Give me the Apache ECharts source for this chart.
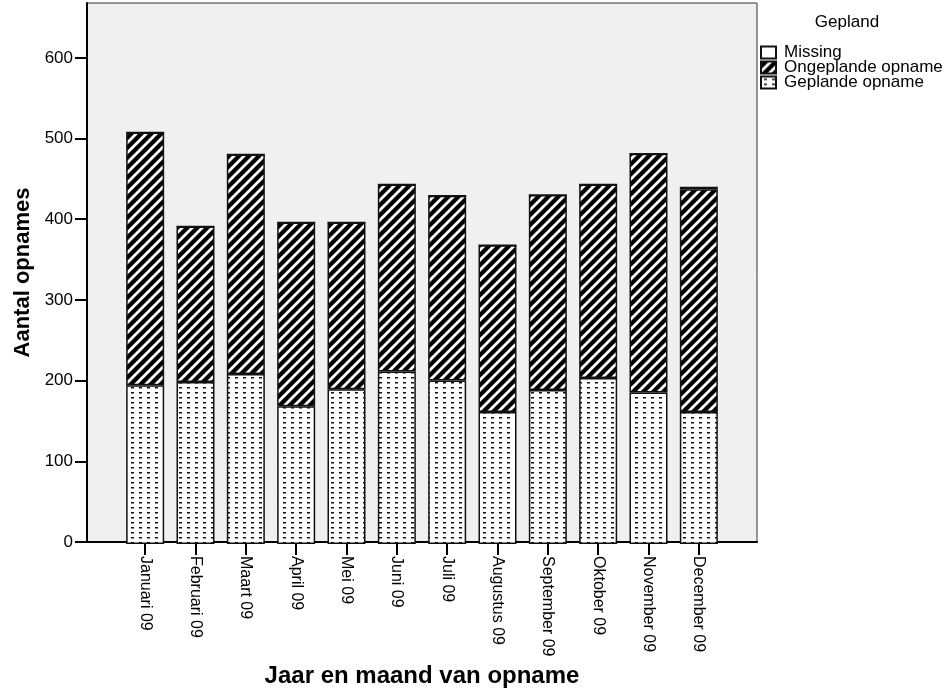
<!DOCTYPE html>
<html>
<head>
<meta charset="utf-8">
<script src="https://cdn.jsdelivr.net/npm/echarts@6/dist/echarts.min.js"></script>
<style>
html,body{margin:0;padding:0;background:#fff;}
#chart{width:946px;height:693px;}
</style>
</head>
<body>
<div id="chart"></div>
<script>
var months = ['Januari 09','Februari 09','Maart 09','April 09','Mei 09','Juni 09','Juli 09','Augustus 09','September 09','Oktober 09','November 09','December 09'];
var geplande = [196, 200, 210, 170, 191, 213, 202, 163, 190, 205, 187, 163];
var ongeplande = [312, 192, 271, 227, 206, 231, 228, 206, 241, 239, 295, 275];
var missing = [0, 0, 0, 0, 0, 0, 0, 0, 0, 0, 0, 3];
var yTicks = [0, 100, 200, 300, 400, 500, 600];
var seriesNames = ['Missing', 'Ongeplande opname', 'Geplande opname'];

function makeStripes() {
  var s = 10, c = document.createElement('canvas');
  c.width = s; c.height = s;
  var g = c.getContext('2d');
  g.fillStyle = '#000'; g.fillRect(0, 0, s, s);
  g.strokeStyle = '#fff'; g.lineWidth = 2.8;
  g.beginPath();
  g.moveTo(-1, s + 1); g.lineTo(s + 1, -1);
  g.moveTo(-1, 1); g.lineTo(1, -1);
  g.moveTo(s - 1, s + 1); g.lineTo(s + 1, s - 1);
  g.stroke();
  return c;
}
function makeDots() {
  var c = document.createElement('canvas');
  c.width = 8; c.height = 5;
  var g = c.getContext('2d');
  g.fillStyle = '#fff'; g.fillRect(0, 0, 8, 5);
  g.fillStyle = '#111'; g.fillRect(3, 2, 3, 1.5);
  return c;
}
var stripePattern = { image: makeStripes(), repeat: 'repeat' };
var dotPattern = { image: makeDots(), repeat: 'repeat' };

var font = "'Liberation Sans', Arial, sans-serif";
var yMax = 668;

var chart = echarts.init(document.getElementById('chart'), null, { renderer: 'canvas' });
chart.setOption({
  animation: false,
  backgroundColor: '#fff',
  textStyle: { fontFamily: font },
  title: {
    text: 'Gepland', left: 847, top: 14, padding: 0, textAlign: 'center',
    textStyle: { fontFamily: font, fontSize: 17, fontWeight: 'normal', color: '#000' }
  },
  legend: {
    data: seriesNames, orient: 'vertical', left: 760, top: 44, padding: 0,
    icon: 'rect', itemWidth: 15, itemHeight: 12, itemGap: -2,
    textStyle: { fontFamily: font, fontSize: 17, color: '#000', padding: [0, 0, 0, 3] }
  },
  grid: [
    { left: 87, right: 189, top: 3, bottom: 149,
      show: true, backgroundColor: '#f0f0f0', borderColor: '#333', borderWidth: 1 },
    { left: 120, right: 222, top: 3, bottom: 149 }
  ],
  xAxis: [
    {
      gridIndex: 0, type: 'value', min: 0, max: 1,
      name: 'Jaar en maand van opname', nameLocation: 'middle', nameGap: 122,
      nameTextStyle: { fontFamily: font, fontSize: 24, fontWeight: 'bold', color: '#000' },
      axisLine: { show: true, onZero: false, lineStyle: { color: '#000', width: 2 } },
      axisTick: { show: false }, axisLabel: { show: false }, splitLine: { show: false }
    },
    {
      gridIndex: 1, type: 'category', data: months, boundaryGap: true,
      axisLine: { show: false },
      axisTick: { show: true, alignWithLabel: true, length: 11, lineStyle: { color: '#000', width: 2 } },
      axisLabel: { interval: 0, rotate: -90, margin: 12, fontFamily: font, fontSize: 16, color: '#000' },
      splitLine: { show: false }
    }
  ],
  yAxis: [
    {
      gridIndex: 0, type: 'value', min: 0, max: yMax,
      name: 'Aantal opnames', nameLocation: 'middle', nameGap: 50,
      nameTextStyle: { fontFamily: font, fontSize: 22, fontWeight: 'bold', color: '#000' },
      axisLine: { show: true, onZero: false, lineStyle: { color: '#000', width: 2 } },
      axisTick: { show: true, customValues: yTicks, length: 12, lineStyle: { color: '#000', width: 2 } },
      axisLabel: { customValues: yTicks, margin: 14, fontFamily: font, fontSize: 17, color: '#000' },
      splitLine: { show: false }
    },
    {
      gridIndex: 1, type: 'value', min: 0, max: yMax, show: false,
      splitLine: { show: false }
    }
  ],
  series: [
    {
      name: 'Geplande opname', type: 'bar', stack: 'total', barWidth: 38,
      xAxisIndex: 1, yAxisIndex: 1,
      itemStyle: { color: dotPattern, borderColor: '#111', borderWidth: 1.5 },
      data: geplande
    },
    {
      name: 'Ongeplande opname', type: 'bar', stack: 'total', barWidth: 38,
      xAxisIndex: 1, yAxisIndex: 1,
      itemStyle: { color: stripePattern, borderColor: '#111', borderWidth: 1.5 },
      data: ongeplande
    },
    {
      name: 'Missing', type: 'bar', stack: 'total', barWidth: 38,
      xAxisIndex: 1, yAxisIndex: 1,
      itemStyle: { color: '#fff', borderColor: '#111', borderWidth: 1.5 },
      data: missing
    }
  ]
});
</script>
</body>
</html>
